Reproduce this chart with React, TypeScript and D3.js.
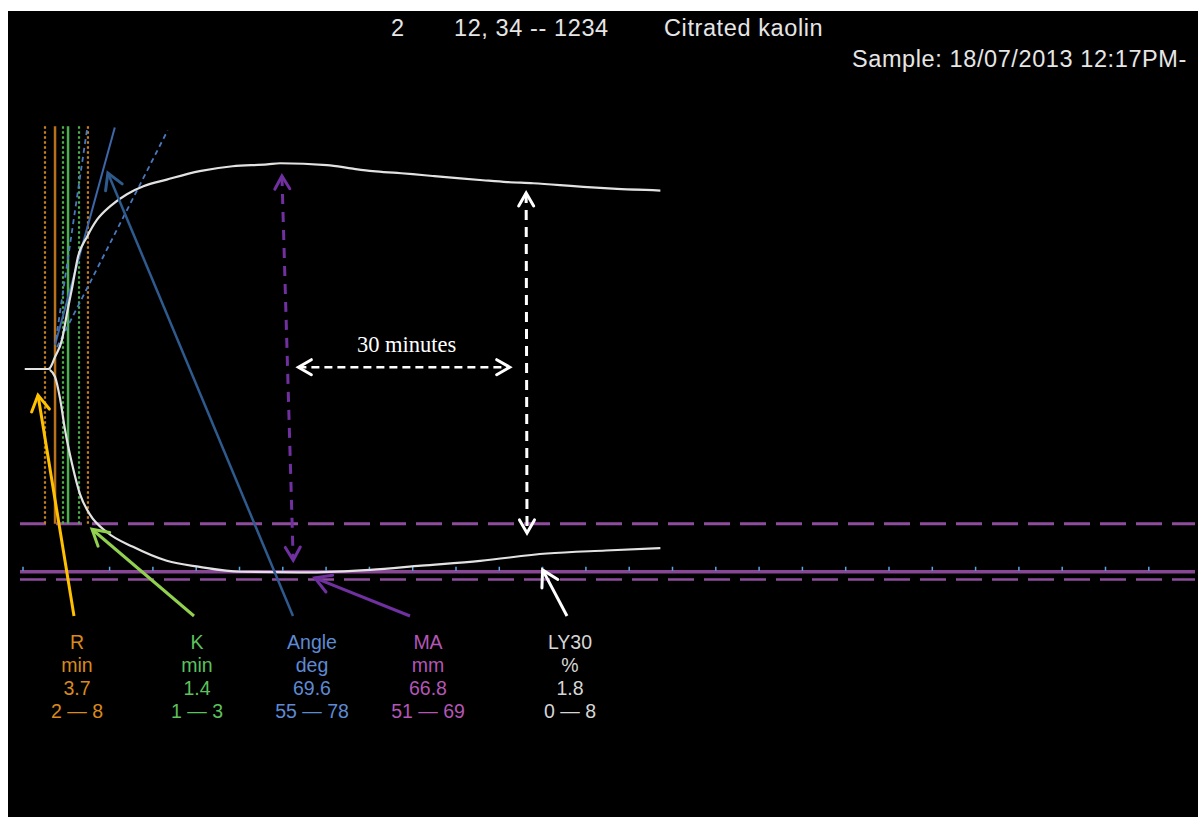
import { useEffect, useRef } from "react";
import * as d3 from "d3";

// TEG trace, citrated kaolin sample
const W = 1198;
const H = 817;
const FONT = "'Liberation Sans', Arial, sans-serif";

// trace: time (min) vs half amplitude (mm)
const upperTime = [0.2, 2.9, 3.1, 3.7, 4.5, 5.1, 5.7, 6.35, 7.4, 8.55, 10.05, 12.0, 13.9, 16.6, 20.4, 24.2, 28.2, 29.7, 35.1, 38.1, 40.4, 43.2, 45.0, 47.3, 50.5, 53.1, 55.9, 58.9, 62.0, 64.7, 68.1, 73.6];
const upperAmp = [0, 0, 0.15, 2.0, 4.8, 9.3, 13.6, 18.5, 21.8, 24.6, 26.8, 28.8, 30.1, 31.2, 32.6, 33.4, 33.7, 33.9, 33.6, 33.0, 32.6, 32.3, 32.1, 31.8, 31.4, 31.1, 30.8, 30.6, 30.3, 30.0, 29.7, 29.4];
const lowerTime = [3.1, 3.7, 4.27, 4.85, 5.66, 6.58, 7.74, 9.7, 12.7, 16.6, 20.4, 25.1, 33.3, 40.1, 46.0, 52.8, 60.5, 67.3, 73.6];
const lowerAmp = [0.15, 1.3, 4.8, 10.0, 15.6, 20.6, 24.0, 26.9, 29.3, 31.6, 32.6, 33.4, 33.5, 33.1, 32.4, 31.6, 30.4, 29.9, 29.5];

// reference markers (minutes)
const rMarks = [2.54, 3.7, 7.5];
const kMarks = [4.62, 5.2, 6.47];
// MA reference (mm, full amplitude): low, value, high
const maMarks = [51, 66.8, 69];
// angle lines: [t0, a0, t1, a1]
const angleLines = [
  { dash: false, seg: [3.7, 4.0, 10.6, 39.8] },
  { dash: true, seg: [3.8, 4.8, 7.4, 39.5] },
  { dash: true, seg: [3.93, 3.6, 16.7, 39.3] },
];
const tickMinutes = d3.range(0, 131, 5);

const paramNames = ["R", "K", "Angle", "MA", "LY30"];
const paramUnits = ["min", "min", "deg", "mm", "%"];
const paramValues = ["3.7", "1.4", "69.6", "66.8", "1.8"];
const paramRanges = ["2 — 8", "1 — 3", "55 — 78", "51 — 69", "0 — 8"];
const paramColors = ["#DB8A1C", "#5CC25C", "#5E8AD4", "#B456B6", "#D6D6D6"];
const arrowColors = ["#FFC000", "#92D050", "#2E5A8E", "#7030A0", "#FFFFFF"];
// where each label arrow points (time, signed amplitude)
const arrowTips = [
  [1.73, -4.3],
  [7.97, -26.4],
  [9.8, 32.3],
  [33.7, -34.4],
  [60.0, -33.1],
];

const headerRow1 = ["2", "12, 34 -- 1234", "Citrated kaolin"];
const headerRow2 = "Sample: 18/07/2013 12:17PM-";

function drawHead(g: any, x1: number, y1: number, x2: number, y2: number, color: string, len = 15, sw = 3) {
  const a = Math.atan2(y2 - y1, x2 - x1);
  const phi = Math.PI / 6;
  const p = (s: number) => [x2 - len * Math.cos(a + s * phi), y2 - len * Math.sin(a + s * phi)];
  const [l, r] = [p(1), p(-1)];
  g.append("path")
    .attr("d", `M${l[0]},${l[1]}L${x2},${y2}L${r[0]},${r[1]}`)
    .attr("fill", "none")
    .attr("stroke", color)
    .attr("stroke-width", sw)
    .attr("stroke-linecap", "round")
    .attr("stroke-linejoin", "miter");
}

export default function App() {
  const svgRef = useRef<SVGSVGElement | null>(null);

  useEffect(() => {
    const svg = d3.select(svgRef.current);
    svg.selectAll("*").remove();

    const x = d3.scaleLinear().domain([0, 130]).range([23, 23 + 130 * 8.66]);
    const y = d3.scaleLinear().domain([-34.5, 34.5]).range([369 + 34.5 * 6.07, 369 - 34.5 * 6.07]);

    svg.append("rect").attr("width", W).attr("height", H).attr("fill", "#fff");
    svg.append("rect").attr("x", 8).attr("y", 11).attr("width", W - 8).attr("height", H - 11).attr("fill", "#000");

    // header
    const hdr = svg.append("g").attr("font-family", FONT).attr("font-size", 23.5)
      .attr("letter-spacing", 0.6).attr("fill", "#E6E6E6");
    const hx = [391, 454, 664];
    headerRow1.forEach((t, i) => hdr.append("text").attr("x", hx[i]).attr("y", 36).text(t));
    hdr.append("text").attr("x", 852).attr("y", 67).text(headerRow2);

    const left = 20;
    const right = W - 3;

    // MA reference lines
    const [maLo, maVal, maHi] = maMarks.map((m) => y(-m / 2));
    svg.append("line").attr("x1", left).attr("x2", right).attr("y1", maLo).attr("y2", maLo)
      .attr("stroke", "#8E4C9C").attr("stroke-width", 3).attr("stroke-dasharray", "26,10");
    svg.append("line").attr("x1", left).attr("x2", right).attr("y1", maHi + 1).attr("y2", maHi + 1)
      .attr("stroke", "#8E4C9C").attr("stroke-width", 2.5).attr("stroke-dasharray", "26,10");
    svg.append("line").attr("x1", left).attr("x2", right).attr("y1", maVal).attr("y2", maVal)
      .attr("stroke", "#874795").attr("stroke-width", 3.5);
    svg.append("g").selectAll("line").data(tickMinutes).join("line")
      .attr("x1", (d) => x(d)).attr("x2", (d) => x(d))
      .attr("y1", maVal - 5).attr("y2", maVal - 1)
      .attr("stroke", "#58A8DA").attr("stroke-width", 1.5);

    // R / K verticals
    const vTop = y(40);
    const vLines = [
      { t: rMarks[0], c: "#C8801E", dash: true },
      { t: rMarks[1], c: "#B8701A", dash: false },
      { t: kMarks[0], c: "#4CB04C", dash: true },
      { t: kMarks[1], c: "#4CAF50", dash: false },
      { t: kMarks[2], c: "#4CB04C", dash: true },
      { t: rMarks[2], c: "#C8801E", dash: true },
    ];
    svg.append("g").selectAll("line").data(vLines).join("line")
      .attr("x1", (d) => x(d.t)).attr("x2", (d) => x(d.t))
      .attr("y1", vTop).attr("y2", maLo)
      .attr("stroke", (d) => d.c)
      .attr("stroke-width", (d) => (d.dash ? 2.2 : 2.5))
      .attr("stroke-dasharray", (d) => (d.dash ? "2.5,2.5" : null));

    // angle lines
    svg.append("g").selectAll("line").data(angleLines).join("line")
      .attr("x1", (d) => x(d.seg[0])).attr("y1", (d) => y(d.seg[1]))
      .attr("x2", (d) => x(d.seg[2])).attr("y2", (d) => y(d.seg[3]))
      .attr("stroke", (d) => (d.dash ? "#4A78C0" : "#3D67A8"))
      .attr("stroke-width", (d) => (d.dash ? 1.8 : 2))
      .attr("stroke-dasharray", (d) => (d.dash ? "5,4" : null));

    // trace
    const line = d3.line<[number, number]>().x((d) => x(d[0])).y((d) => y(d[1])).curve(d3.curveMonotoneX);
    const up = upperTime.map((t, i) => [t, upperAmp[i]] as [number, number]);
    const lo = lowerTime.map((t, i) => [t, -lowerAmp[i]] as [number, number]);
    [up, lo].forEach((pts) => {
      svg.append("path").attr("d", line(pts)).attr("fill", "none")
        .attr("stroke", "#E2E2E2").attr("stroke-width", 2.2);
    });

    // measurement arrows
    const ann = svg.append("g");
    const dashedDouble = (t0: number, a0: number, t1: number, a1: number, color: string, dash: string, sw: number) => {
      const [x1, y1, x2, y2] = [x(t0), y(a0), x(t1), y(a1)];
      ann.append("line").attr("x1", x1).attr("y1", y1).attr("x2", x2).attr("y2", y2)
        .attr("stroke", color).attr("stroke-width", sw).attr("stroke-dasharray", dash);
      drawHead(ann, x2, y2, x1, y1, color, 15, 3);
      drawHead(ann, x1, y1, x2, y2, color, 15, 3);
    };
    dashedDouble(29.9, 31.8, 31.2, -31.5, "#7030A0", "10,8", 3);
    dashedDouble(58.1, 29.0, 58.2, -27.0, "#FFFFFF", "10,7", 3);
    dashedDouble(31.8, 0.3, 56.2, 0.3, "#FFFFFF", "8,5", 2.5);

    ann.append("text")
      .attr("x", x(44.3)).attr("y", 352)
      .attr("text-anchor", "middle")
      .attr("font-family", "'Liberation Serif', 'Times New Roman', serif")
      .attr("font-size", 22.5).attr("fill", "#fff")
      .text("30 minutes");

    // parameter labels
    const colX = [77, 197, 312, 428, 570];
    const rowsY = [649, 672, 695, 718];
    const lab = svg.append("g").attr("font-family", FONT).attr("font-size", 19.5).attr("text-anchor", "middle");
    paramNames.forEach((n, i) => {
      const rows = [n, paramUnits[i], paramValues[i], paramRanges[i]];
      rows.forEach((r, j) => lab.append("text").attr("x", colX[i]).attr("y", rowsY[j])
        .attr("fill", paramColors[i]).text(r));
      const tail = [colX[i] - 3 + (i === 2 ? -16 : 0), 616];
      const tip = [x(arrowTips[i][0]), y(arrowTips[i][1])];
      if (i === 3) tail[0] = colX[i] - 18;
      ann.append("line").attr("x1", tail[0]).attr("y1", tail[1]).attr("x2", tip[0]).attr("y2", tip[1])
        .attr("stroke", arrowColors[i]).attr("stroke-width", i === 2 ? 2.5 : 3);
      drawHead(ann, tail[0], tail[1], tip[0], tip[1], arrowColors[i], 18, 3);
    });
  }, []);

  return (
    <svg ref={svgRef} width={W} height={H} style={{ position: "absolute", left: 0, top: 0 }} />
  );
}
